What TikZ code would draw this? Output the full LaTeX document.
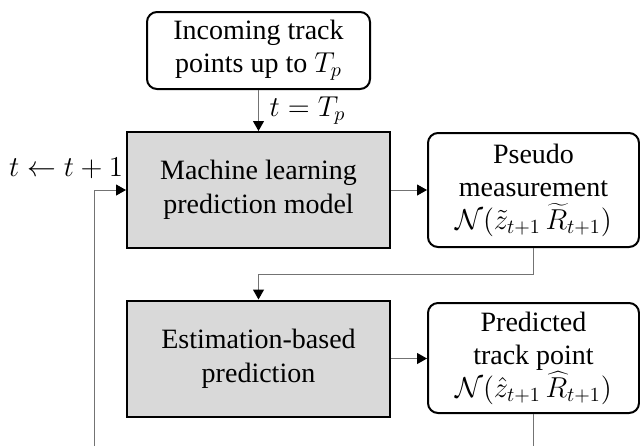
\documentclass[tikz,border=0pt]{standalone}
\usepackage{fontspec}
\setmainfont{Liberation Serif}
\usetikzlibrary{arrows.meta}
\begin{document}
\begin{tikzpicture}[x=0.5pt, y=-0.5pt,
    procbox/.style={draw, line width=1pt, fill=black!15, minimum width=131.5pt, minimum height=58pt, inner sep=0pt, align=center, font=\fontsize{14}{17}\selectfont},
    outbox/.style={draw, line width=1pt, rounded corners=5pt, fill=white, minimum width=105.5pt, minimum height=57pt, inner sep=0pt, align=center, font=\fontsize{14}{16.5}\selectfont},
    flow/.style={draw=black!55, line width=0.5pt, -{Triangle[length=5pt, width=5.5pt, color=black]}}]
    \useasboundingbox (0,0) rectangle (640,446);
    \node[outbox, minimum width=111.5pt, minimum height=38.5pt] (inc) at (258.5,50.5) {Incoming track\\points up to $T_p$};
    \node[procbox] (ml) at (258.5,190) {Machine learning\\prediction model};
    \node[procbox] (est) at (258.5,358.5) {Estimation-based\\prediction};
    \node[outbox] (pseudo) at (533.5,190) {Pseudo\\measurement\\$\mathcal{N}(\tilde{z}_{t+1}\,\widetilde{R}_{t+1})$};
    \node[outbox, minimum height=55pt] (pred) at (533.5,358) {Predicted\\track point\\$\mathcal{N}(\hat{z}_{t+1}\,\widehat{R}_{t+1})$};
    \node[font=\fontsize{14}{17}\selectfont] (step) at (66,168) {$t \leftarrow t+1$};
    \coordinate (back) at (94,446);
    \coordinate (out) at (533.5,446);
    \draw[flow] (inc) -- node[right, xshift=2pt, font=\fontsize{14}{17}\selectfont] {$t = T_p$} (ml);
    \draw[flow] (ml) -- (pseudo);
    \draw[flow] (pseudo.south) -- ++(0,26) -| (est.north);
    \draw[flow] (est.east) -- (est.east -| pred.west);
    \draw[draw=black!55, line width=0.5pt] (pred.south) -- (out);
    \draw[flow] (back) |- (ml.west);
  \end{tikzpicture}
\end{document}
